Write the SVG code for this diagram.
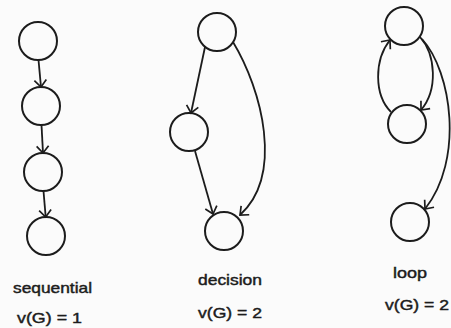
<svg xmlns="http://www.w3.org/2000/svg" width="451" height="328" viewBox="0 0 451 328">
  <defs>
    <style>
      .node { fill: none; stroke: #1c1c1c; stroke-width: 2; }
      .edge { fill: none; stroke: #1c1c1c; stroke-width: 1.8; marker-end: url(#arrow); }
      .label { font-family: "Liberation Sans", Arial, sans-serif; font-size: 15px; fill: #1c1c1c; stroke: #1c1c1c; stroke-width: 0.45; }
    </style>
    <!-- open chevron arrowhead -->
    <marker id="arrow" markerUnits="userSpaceOnUse" markerWidth="16" markerHeight="16" viewBox="-9 -8 11 16" refX="0" refY="0" orient="auto">
      <path d="M-7,-6 L0,0 L-7,6" fill="none" stroke="#1c1c1c" stroke-width="1.7"/>
    </marker>
  </defs>
  <rect width="451" height="328" fill="#fbfbfb"/>

  <!-- sequential graph -->
  <g id="seq-n1"><circle class="node" cx="38" cy="41" r="19"/></g>
  <g id="seq-n2"><circle class="node" cx="41" cy="106" r="19"/></g>
  <g id="seq-n3"><circle class="node" cx="43" cy="172" r="19"/></g>
  <g id="seq-n4"><circle class="node" cx="46" cy="236" r="19"/></g>

  <!-- decision graph -->
  <g id="dec-n1"><circle class="node" cx="217" cy="32" r="19"/></g>
  <g id="dec-n2"><circle class="node" cx="189" cy="132" r="19"/></g>
  <g id="dec-n3"><circle class="node" cx="224" cy="231" r="19"/></g>

  <!-- loop graph -->
  <g id="loop-n1"><circle class="node" cx="404" cy="26" r="19"/></g>
  <g id="loop-n2"><circle class="node" cx="407" cy="124" r="19"/></g>
  <g id="loop-n3"><circle class="node" cx="410" cy="222" r="19"/></g>

  <g id="connectors">
    <path class="edge" d="M38.5,60 L41,87"/>
    <path class="edge" d="M41.5,125 L43,153"/>
    <path class="edge" d="M43.5,191 L45.7,217"/>

    <path class="edge" d="M205,47 L191,113"/>
    <path class="edge" d="M195,151 L213,214"/>
    <path class="edge" d="M233,42 C262,90 284,175 240,215"/>

    <path class="edge" d="M391,112 C374,95 374,60 390,40"/>
    <path class="edge" d="M420,37 C436,55 438,90 421,110"/>
    <path class="edge" d="M422,39 C452,72 464,160 425,209"/>
  </g>

  <g id="labels">
    <text class="label" x="13" y="293" textLength="79" lengthAdjust="spacingAndGlyphs">sequential</text>
    <text class="label" x="17" y="323" textLength="65" lengthAdjust="spacingAndGlyphs">v(G) = 1</text>
    <text class="label" x="198" y="285" textLength="64" lengthAdjust="spacingAndGlyphs">decision</text>
    <text class="label" x="198" y="318" textLength="64" lengthAdjust="spacingAndGlyphs">v(G) = 2</text>
    <text class="label" x="393" y="278" textLength="34" lengthAdjust="spacingAndGlyphs">loop</text>
    <text class="label" x="385" y="310" textLength="64" lengthAdjust="spacingAndGlyphs">v(G) = 2</text>
  </g>
</svg>
